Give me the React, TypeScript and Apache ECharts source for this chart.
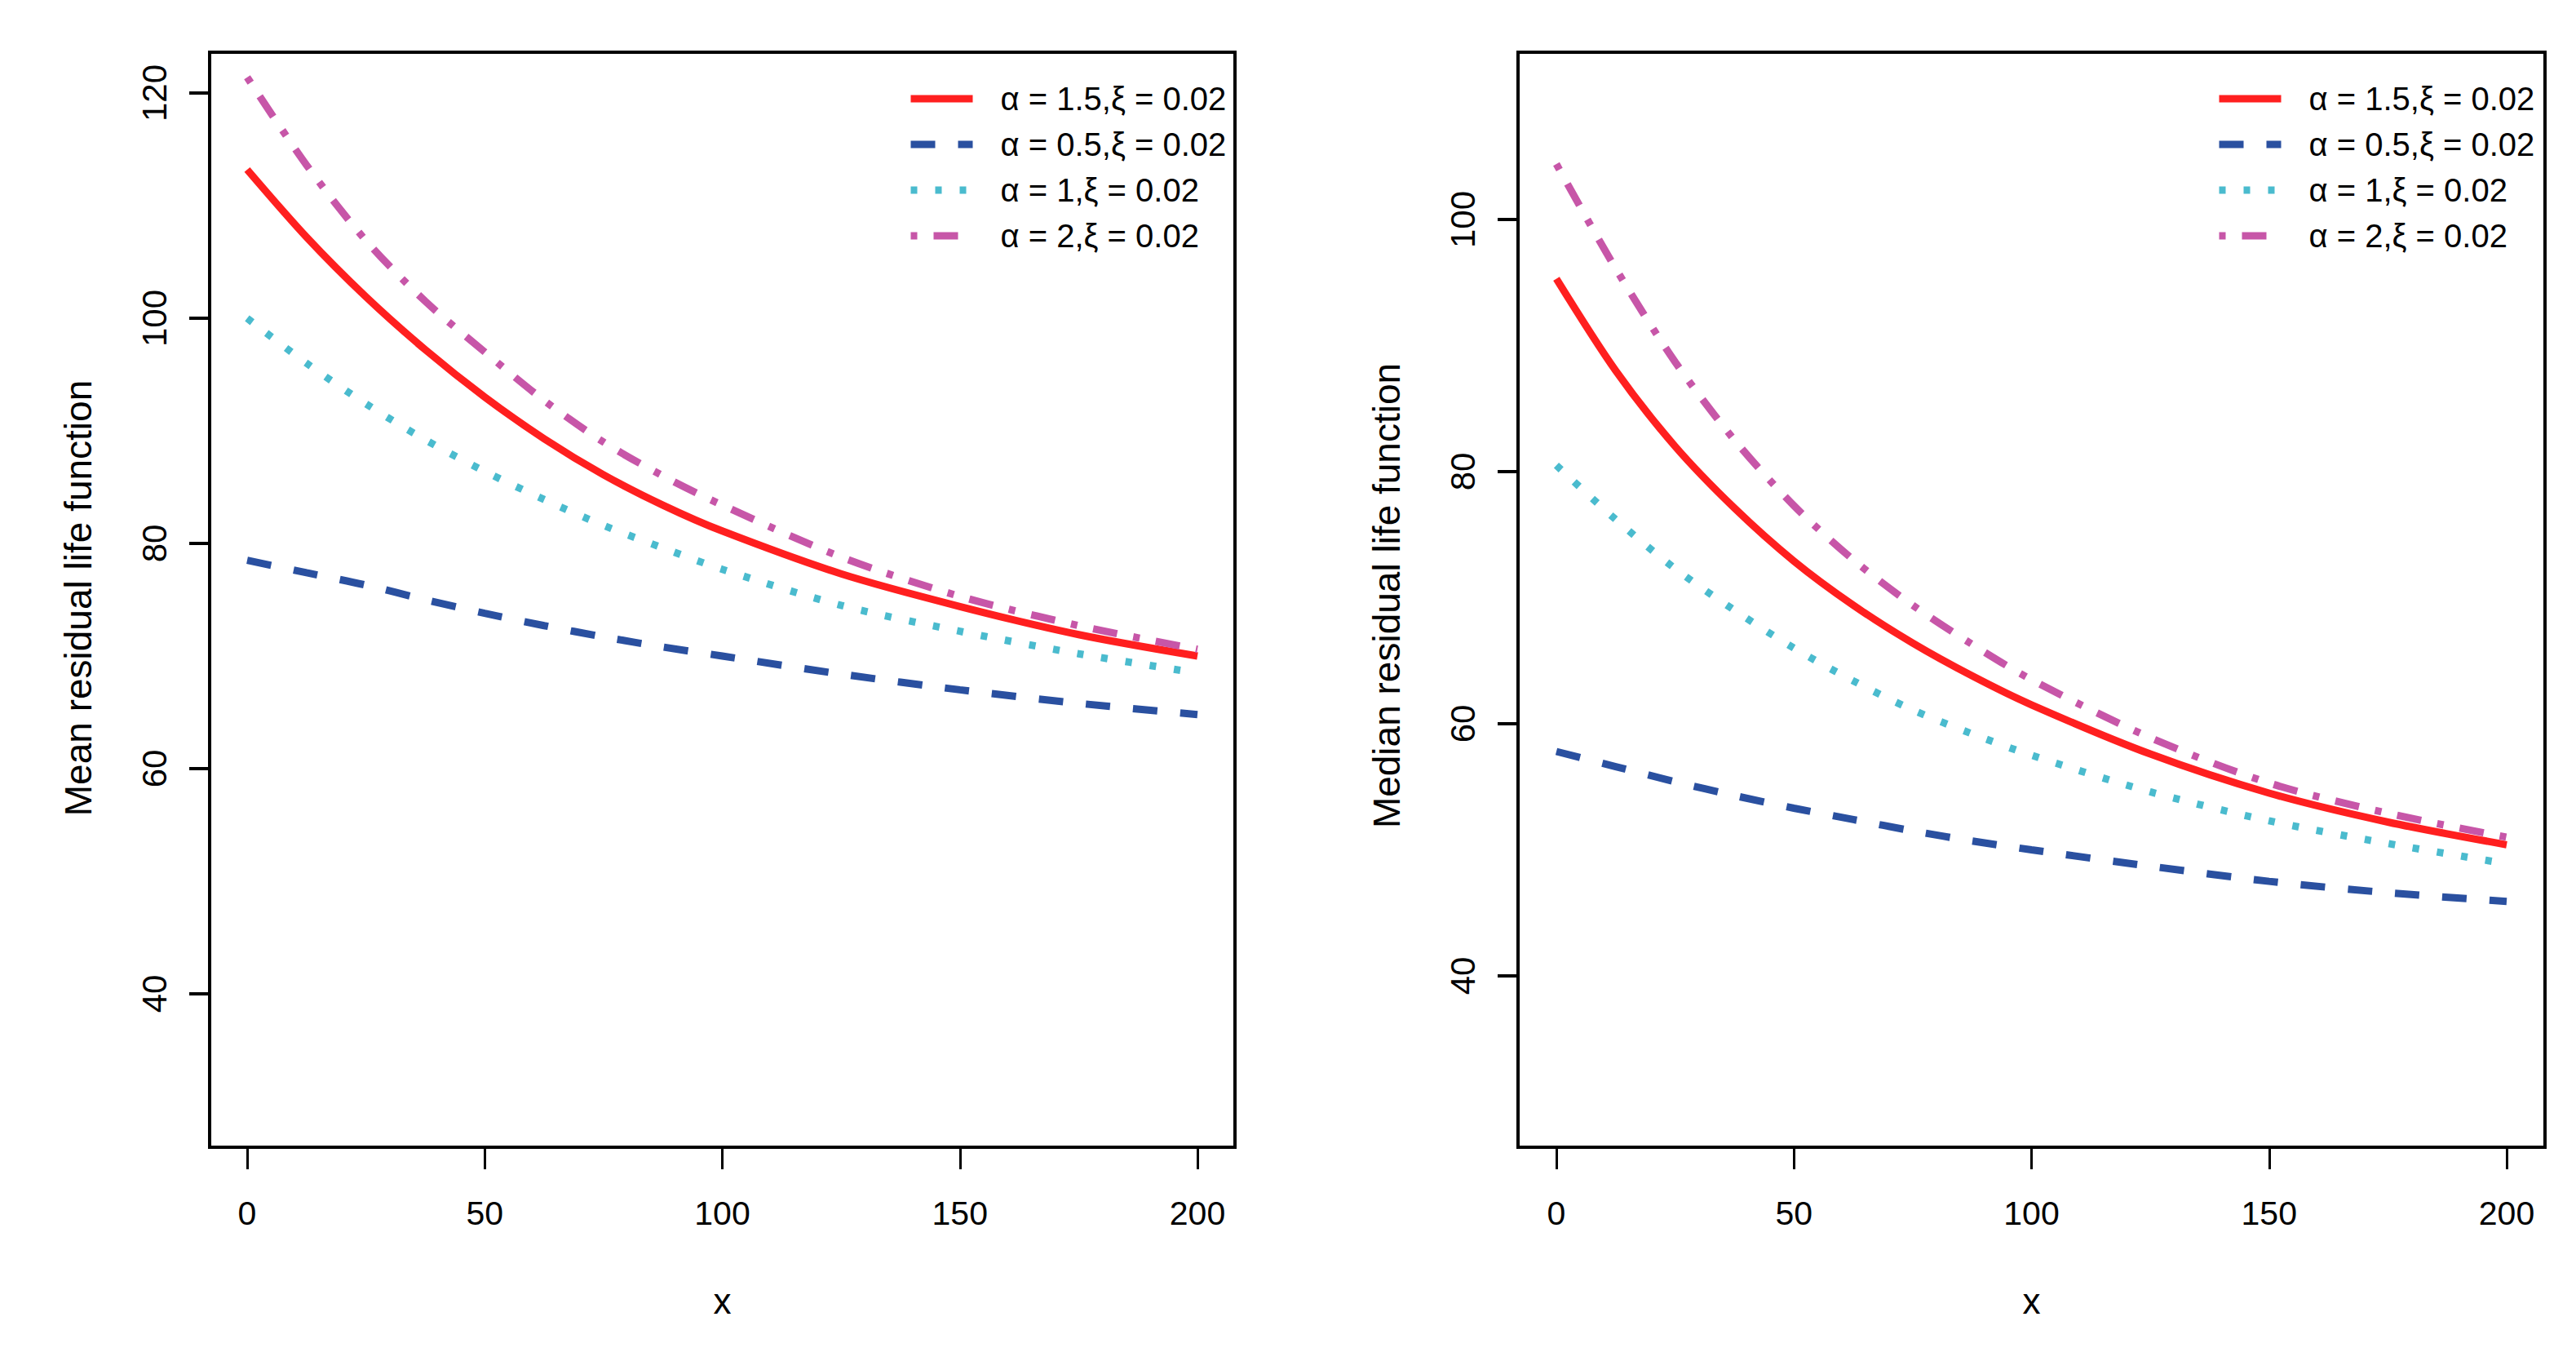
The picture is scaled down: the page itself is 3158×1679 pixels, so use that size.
import React, { useEffect, useRef } from 'react';
import * as echarts from 'echarts';

// x grid shared by both panels
const xValues = [0, 12.5, 25, 37.5, 50, 62.5, 75, 87.5, 100, 125, 150, 175, 200];

const seriesNames = ['α = 1.5,ξ = 0.02', 'α = 0.5,ξ = 0.02', 'α = 1,ξ = 0.02', 'α = 2,ξ = 0.02'];

// left panel: mean residual life
const meanA15 = [113.2, 107.2, 101.9, 97.2, 93.0, 89.3, 86.1, 83.4, 81.1, 77.3, 74.4, 71.9, 70.0];
const meanA05 = [78.5, 77.4, 76.3, 75.0, 73.8, 72.7, 71.7, 70.8, 70.0, 68.4, 67.0, 65.8, 64.8];
const meanA1 = [100.0, 96.0, 92.4, 89.2, 86.4, 83.9, 81.6, 79.6, 77.7, 74.5, 72.2, 70.2, 68.5];
const meanA2 = [121.4, 113.6, 106.9, 101.5, 97.0, 92.7, 89.0, 86.0, 83.4, 78.8, 75.3, 72.7, 70.6];

// right panel: median residual life
const medA15 = [95.3, 88.0, 82.0, 77.1, 72.9, 69.4, 66.4, 63.8, 61.5, 57.6, 54.5, 52.2, 50.4];
const medA05 = [57.8, 56.6, 55.4, 54.3, 53.3, 52.4, 51.5, 50.7, 50.0, 48.7, 47.5, 46.6, 45.9];
const medA1 = [80.5, 76.2, 72.3, 69.0, 66.0, 63.4, 61.1, 59.2, 57.5, 54.6, 52.3, 50.5, 48.9];
const medA2 = [104.4, 96.1, 88.7, 82.5, 77.3, 73.0, 69.4, 66.3, 63.5, 58.9, 55.3, 52.9, 51.0];

const colors = ['#FF1F1F', '#2A50A0', '#4ABBCE', '#C756A8'];
const dashes: (string | number[])[] = ['solid', [30, 28], [8, 22], [8, 20, 30, 20]];

const sans = '"Liberation Sans", Arial, Helvetica, sans-serif';

const pairs = (ys: number[]) => xValues.map((x, i) => [x, ys[i]]);

const App: React.FC = () => {
  const chartRef = useRef<HTMLDivElement | null>(null);

  useEffect(() => {
    if (!chartRef.current) return;
    const chart = echarts.init(chartRef.current, undefined, { renderer: 'svg' });

    const panels = [
      { data: [meanA15, meanA05, meanA1, meanA2], yMin: 40, yMax: 120 },
      { data: [medA15, medA05, medA1, medA2], yMin: 40, yMax: 100 },
    ];

    const xAxisBase = (offset: number) => ({
      type: 'value',
      min: 0,
      max: 200,
      interval: 50,
      offset,
      axisLine: { show: false, onZero: false },
      axisTick: { show: true, length: 27, lineStyle: { color: '#000', width: 3 } },
      axisLabel: { margin: 60, fontSize: 41, fontFamily: sans, color: '#000' },
      splitLine: { show: false },
      name: 'x',
      nameLocation: 'middle',
      nameGap: 166,
      nameTextStyle: { fontSize: 44, fontFamily: sans, color: '#000' },
    });

    const yAxisBase = (min: number, max: number, offset: number) => ({
      type: 'value',
      min,
      max,
      interval: 20,
      offset,
      axisLine: { show: false, onZero: false },
      axisTick: { show: true, length: 25, lineStyle: { color: '#000', width: 4 } },
      axisLabel: { rotate: 90, margin: 47, fontSize: 42, fontFamily: sans, color: '#000' },
      splitLine: { show: false },
    });

    const legendBase = (left: number) => ({
      orient: 'vertical',
      left,
      top: 99,
      padding: 0,
      itemWidth: 76,
      itemHeight: 20,
      itemGap: 12,
      data: seriesNames,
      lineStyle: { width: 9 },
      itemStyle: { opacity: 0 },
      textStyle: {
        fontSize: 40,
        lineHeight: 44,
        fontFamily: sans,
        color: '#000',
        padding: [0, 0, 0, 29],
      },
    });

    const series: any[] = [];
    panels.forEach((p, gi) => {
      p.data.forEach((ys, si) => {
        series.push({
          name: seriesNames[si],
          type: 'line',
          xAxisIndex: gi,
          yAxisIndex: gi,
          data: pairs(ys),
          smooth: 0.3,
          symbol: 'none',
          showSymbol: false,
          clip: false,
          color: colors[si],
          lineStyle: { color: colors[si], width: 9, type: dashes[si], cap: 'butt' },
          z: 2,
        });
      });
    });

    const yTitle = (text: string, x: number, y: number) => ({
      type: 'text',
      x,
      y,
      rotation: Math.PI / 2,
      style: {
        text,
        fontSize: 46,
        fontFamily: sans,
        fill: '#000',
        align: 'center',
        verticalAlign: 'middle',
      },
    });

    const option = {
      animation: false,
      backgroundColor: '#fff',
      grid: [
        { left: 303, top: 114, width: 1165, height: 1104 },
        { left: 1908, top: 269, width: 1165, height: 927 },
      ],
      xAxis: [
        { ...xAxisBase(188), gridIndex: 0 },
        { ...xAxisBase(210), gridIndex: 1 },
      ],
      yAxis: [
        { ...yAxisBase(panels[0].yMin, panels[0].yMax, 46), gridIndex: 0 },
        { ...yAxisBase(panels[1].yMin, panels[1].yMax, 47), gridIndex: 1 },
      ],
      legend: [legendBase(1112), legendBase(2716)],
      graphic: [
        {
          type: 'rect',
          shape: { x: 257, y: 64, width: 1257, height: 1342 },
          style: { fill: 'none', stroke: '#000', lineWidth: 4 },
          silent: true,
        },
        {
          type: 'rect',
          shape: { x: 1861, y: 64, width: 1259, height: 1342 },
          style: { fill: 'none', stroke: '#000', lineWidth: 4 },
          silent: true,
        },
        yTitle('Mean residual life function', 96, 733),
        yTitle('Median residual life function', 1700, 730),
      ],
      series,
    };

    chart.setOption(option);
    return () => {
      chart.dispose();
    };
  }, []);

  return (
    <div
      ref={chartRef}
      style={{ position: 'fixed', left: 0, top: 0, width: '3158px', height: '1679px' }}
    />
  );
};

export default App;
